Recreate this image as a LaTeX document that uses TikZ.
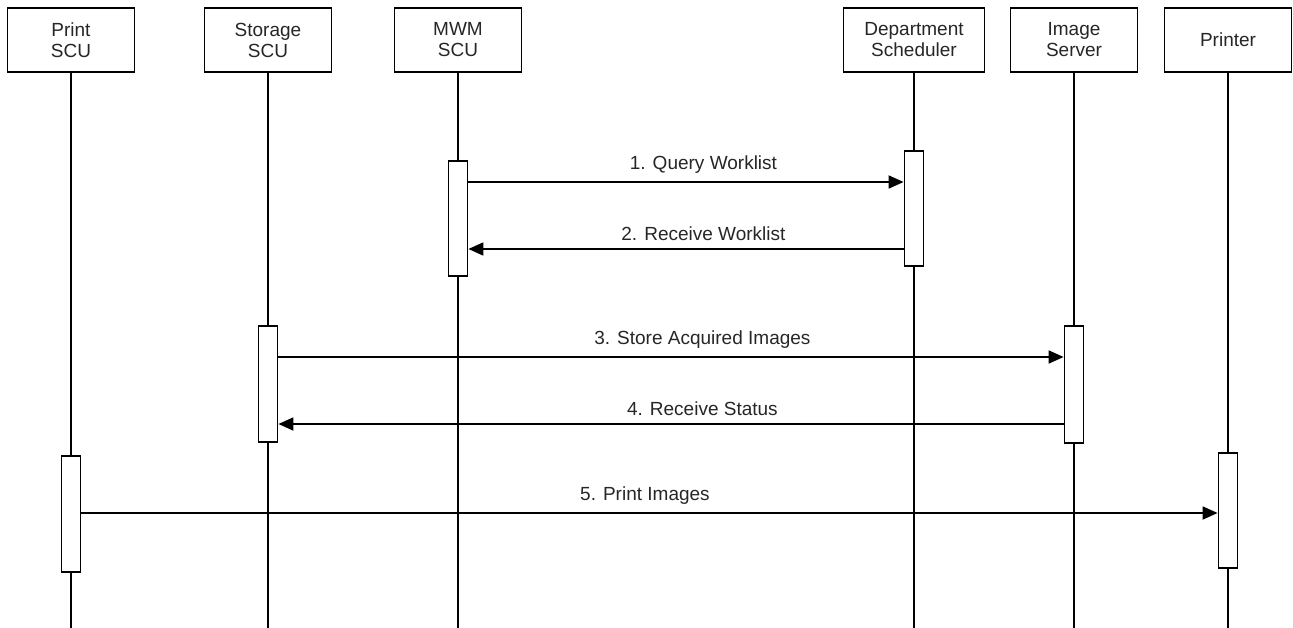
\documentclass[tikz,border=0pt]{standalone}
\usepackage{fontspec}
\setmainfont{Liberation Sans}
\usetikzlibrary{arrows.meta}

\begin{document}
\begin{tikzpicture}[x=1pt, y=-1pt, line width=1.8pt,
    every node/.style={font=\fontsize{19}{21}\selectfont, text=black!85},
    actor/.style={rectangle, draw, line width=1.3pt, fill=white, minimum height=64pt, minimum width=127pt, align=center, inner sep=0pt},
    act/.style={rectangle, draw, fill=white, minimum width=19pt, inner sep=0pt},
    msg/.style={-{Triangle[length=15pt, width=13pt]}}]
    \useasboundingbox (0,0) rectangle (1293,628);

    % Participants
    \node[actor] (print) at (71,40) {Print\\SCU};
    \node[actor] (storage) at (268,40) {Storage\\SCU};
    \node[actor] (mwm) at (458,40) {MWM\\SCU};
    \node[actor, minimum width=141pt] (dept) at (914,40) {Department\\Scheduler};
    \node[actor] (image) at (1074,40) {Image\\Server};
    \node[actor] (printer) at (1228,40) {Printer};

    % Lifelines
    \foreach \n in {print,storage,mwm,dept,image,printer}
        \draw (\n.south) -- (\n.south |- 0,628);

    % Activations
    \node[act, minimum height=115pt] (mwmAct) at (458,218.5) {};
    \node[act, minimum height=115pt] (deptAct) at (914,208.5) {};
    \node[act, minimum height=116pt] (storageAct) at (268,384) {};
    \node[act, minimum height=117pt] (imageAct) at (1074,384.5) {};
    \node[act, minimum height=116pt] (printAct) at (71,514) {};
    \node[act, minimum height=115pt] (printerAct) at (1228,510.5) {};

    % Messages
    \draw[msg] (mwmAct.east |- 0,182) -- (deptAct.west |- 0,182) node[pos=0.54, above, yshift=4pt] {1. Query Worklist};
    \draw[msg] (deptAct.west |- 0,249) -- (mwmAct.east |- 0,249) node[pos=0.46, above, yshift=4pt] {2. Receive Worklist};
    \draw[msg] (storageAct.east |- 0,357) -- (imageAct.west |- 0,357) node[pos=0.54, above, yshift=4pt] {3. Store Acquired Images};
    \draw[msg] (imageAct.west |- 0,424) -- (storageAct.east |- 0,424) node[pos=0.46, above, yshift=4pt] {4. Receive Status};
    \draw[msg] (printAct.east |- 0,513) -- (printerAct.west |- 0,513) node[pos=0.496, above, yshift=4pt] {5. Print Images};
\end{tikzpicture}
\end{document}
